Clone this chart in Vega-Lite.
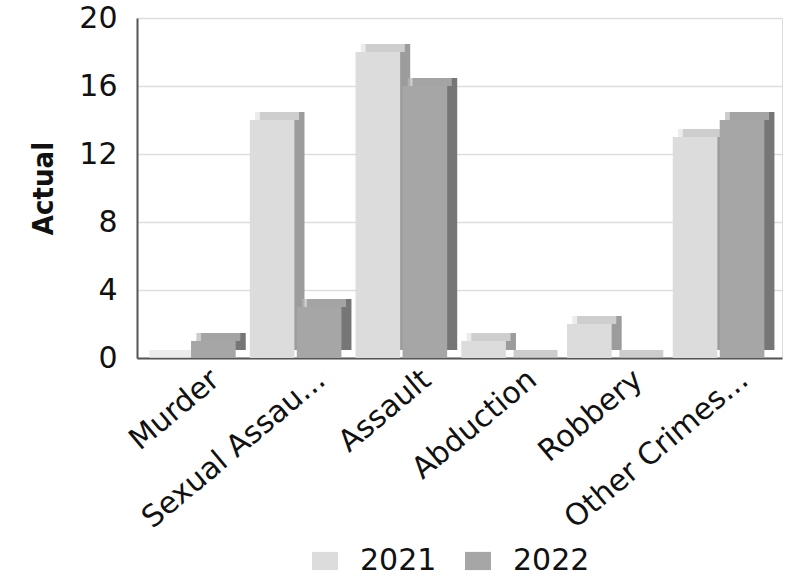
{
  "$schema": "https://vega.github.io/schema/vega-lite/v6.json",
  "autosize": {"type": "none"},
  "padding": {"left": 137, "top": 18, "right": 15, "bottom": 219},
  "width": 645,
  "height": 340,
  "background": "white",
  "data": {
    "values": [
      {"category": "Murder", "year": "2021", "value": 0},
      {"category": "Murder", "year": "2022", "value": 1},
      {"category": "Sexual Assau...", "year": "2021", "value": 14},
      {"category": "Sexual Assau...", "year": "2022", "value": 3},
      {"category": "Assault", "year": "2021", "value": 18},
      {"category": "Assault", "year": "2022", "value": 16},
      {"category": "Abduction", "year": "2021", "value": 1},
      {"category": "Abduction", "year": "2022", "value": 0},
      {"category": "Robbery", "year": "2021", "value": 2},
      {"category": "Robbery", "year": "2022", "value": 0},
      {"category": "Other Crimes...", "year": "2021", "value": 13},
      {"category": "Other Crimes...", "year": "2022", "value": 14}
    ]
  },
  "encoding": {
    "xOffset": {
      "field": "year",
      "type": "nominal",
      "scale": {"paddingInner": 0.05, "paddingOuter": 0.15}
    },
    "y": {
      "field": "value",
      "type": "quantitative",
      "scale": {"domain": [0, 20], "nice": false},
      "axis": {
        "title": "Actual",
        "titleFont": "DejaVu Sans Condensed, DejaVu Sans",
        "titleFontSize": 29,
        "titleFontWeight": "bold",
        "titleColor": "#111111",
        "titlePadding": 20,
        "values": [0, 4, 8, 12, 16, 20],
        "labelFont": "DejaVu Sans",
        "labelFontSize": 30,
        "labelColor": "#111111",
        "labelPadding": 20,
        "ticks": false,
        "domainColor": "#555555",
        "domainWidth": 2,
        "gridColor": "#dddddd",
        "gridWidth": 1.5
      }
    }
  },
  "layer": [
    {
      "mark": {"type": "bar", "yOffset": -8},
      "encoding": {
        "x": {
          "field": "category",
          "type": "nominal",
          "sort": null,
          "scale": {"paddingInner": 0, "paddingOuter": 0.05, "align": 0.95},
          "axis": null
        },
        "color": {
          "condition": {"test": "datum.year == '2021'", "value": "#9c9c9c"},
          "value": "#767676"
        }
      }
    },
    {
      "mark": {"type": "tick", "yOffset": -4, "thickness": 8, "size": 44},
      "encoding": {
        "x": {
          "field": "category",
          "type": "nominal",
          "sort": null,
          "scale": {"paddingInner": 0, "paddingOuter": 0.05, "align": 0.47},
          "axis": null
        },
        "color": {
          "condition": {"test": "datum.year == '2021'", "value": "#e4e4e4"},
          "value": "#b8b8b8"
        }
      }
    },
    {
      "mark": {"type": "bar"},
      "encoding": {
        "x": {
          "field": "category",
          "type": "nominal",
          "sort": null,
          "scale": {"paddingInner": 0, "paddingOuter": 0.05, "align": 0},
          "axis": {
            "title": null,
            "labelAngle": -40,
            "labelAlign": "right",
            "labelBaseline": "top",
            "labelFont": "DejaVu Sans",
            "labelFontSize": 30,
            "labelColor": "#111111",
            "labelPadding": 6,
            "labelOffset": 16,
            "ticks": false,
            "domainColor": "#555555",
            "domainWidth": 2,
            "labelLimit": 400
          }
        },
        "color": {
          "field": "year",
          "type": "nominal",
          "scale": {"domain": ["2021", "2022"], "range": ["#dcdcdc", "#a6a6a6"]},
          "legend": {
            "title": null,
            "orient": "none",
            "direction": "horizontal",
            "legendX": 173,
            "legendY": 528,
            "symbolType": "M-1,-0.7H1V0.7H-1Z",
            "symbolSize": 676,
            "symbolStrokeWidth": 0,
            "labelFont": "DejaVu Sans",
            "labelFontSize": 30,
            "labelColor": "#111111",
            "labelOffset": 20,
            "columnPadding": 26,
            "padding": 0
          }
        }
      }
    }
  ],
  "resolve": {"scale": {"x": "independent"}}
}
